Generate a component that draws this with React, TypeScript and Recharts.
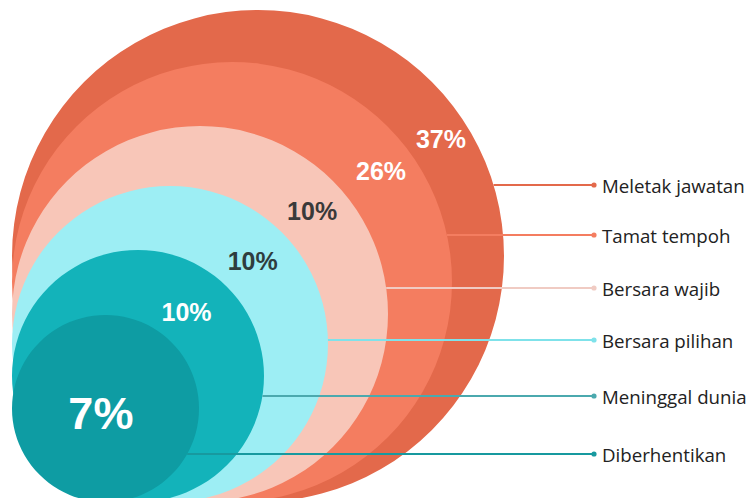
import React from 'react';
import { PieChart, Pie, Cell } from 'recharts';

// data, outer ring first
const categories = [
  'Meletak jawatan',
  'Tamat tempoh',
  'Bersara wajib',
  'Bersara pilihan',
  'Meninggal dunia',
  'Diberhentikan',
];
const shares = [37, 26, 10, 10, 10, 7];

// look & layout
const COLORS = ['#E3694B', '#F47D60', '#F8C6B8', '#9DEEF4', '#13B3BA', '#0E9CA3'];
const LINE_COLORS = ['#E3694B', '#F47D60', '#F0CBC3', '#7FE2EA', '#4BA9AE', '#17999F'];
const RADII = [246, 220, 188, 158, 126, 93.5];
const LEADER_Y = [185, 235, 288, 340, 396, 454];
const PCT_ANGLE = [32.7, 36.7, 42.6, 45, 53, 225];
const PCT_DIST = [0.884, 0.845, 0.81, 0.74, 0.64, 0.07];
const PCT_COLOR = ['#ffffff', '#ffffff', '#3a3a3a', '#2f3d3e', '#ffffff', '#ffffff'];
const PCT_SIZE = [25, 25, 25, 25, 25, 45];

const W = 746;
const H = 498;
const CORNER_X = 12; // all circles sit in this bottom-left corner
const CORNER_Y = 502;
const DOT_X = 594;

const renderLabel = (i: number) => (props: any) => {
  const { cx, cy, outerRadius, payload } = props;
  const a = (PCT_ANGLE[i] * Math.PI) / 180;
  const d = outerRadius * PCT_DIST[i];
  const tx = cx + d * Math.cos(a);
  const ty = cy - d * Math.sin(a);
  const ly = LEADER_Y[i];
  const x0 = cx + Math.sqrt(Math.max(0, outerRadius * outerRadius - (ly - cy) * (ly - cy)));
  return (
    <g>
      <text
        x={tx}
        y={ty}
        textAnchor="middle"
        dominantBaseline="central"
        fill={PCT_COLOR[i]}
        fontFamily="'Liberation Sans', Arial, sans-serif"
        fontWeight="bold"
        fontSize={PCT_SIZE[i]}
      >
        {payload.value}%
      </text>
      <line x1={x0} y1={ly} x2={DOT_X} y2={ly} stroke={LINE_COLORS[i]} strokeWidth={2} />
      <circle cx={DOT_X} cy={ly} r={2.6} fill={LINE_COLORS[i]} />
      <text
        x={DOT_X + 8}
        y={ly}
        dominantBaseline="central"
        fill="#222222"
        fontFamily="'Open Sans', sans-serif"
        fontSize={18.7}
      >
        {payload.name}
      </text>
    </g>
  );
};

export default function App() {
  return (
    <div style={{ position: 'absolute', left: 0, top: 0, width: W, height: H, background: '#fff' }}>
      <PieChart width={W} height={H} margin={{ top: 0, right: 0, bottom: 0, left: 0 }}>
        {categories.map((name, i) => (
          <Pie
            key={name}
            data={[{ name, value: shares[i] }]}
            dataKey="value"
            nameKey="name"
            cx={CORNER_X + RADII[i]}
            cy={CORNER_Y - RADII[i]}
            outerRadius={RADII[i]}
            innerRadius={0}
            startAngle={90}
            endAngle={450}
            stroke="none"
            label={renderLabel(i)}
            labelLine={false}
            isAnimationActive={false}
          >
            <Cell fill={COLORS[i]} />
          </Pie>
        ))}
      </PieChart>
    </div>
  );
}
